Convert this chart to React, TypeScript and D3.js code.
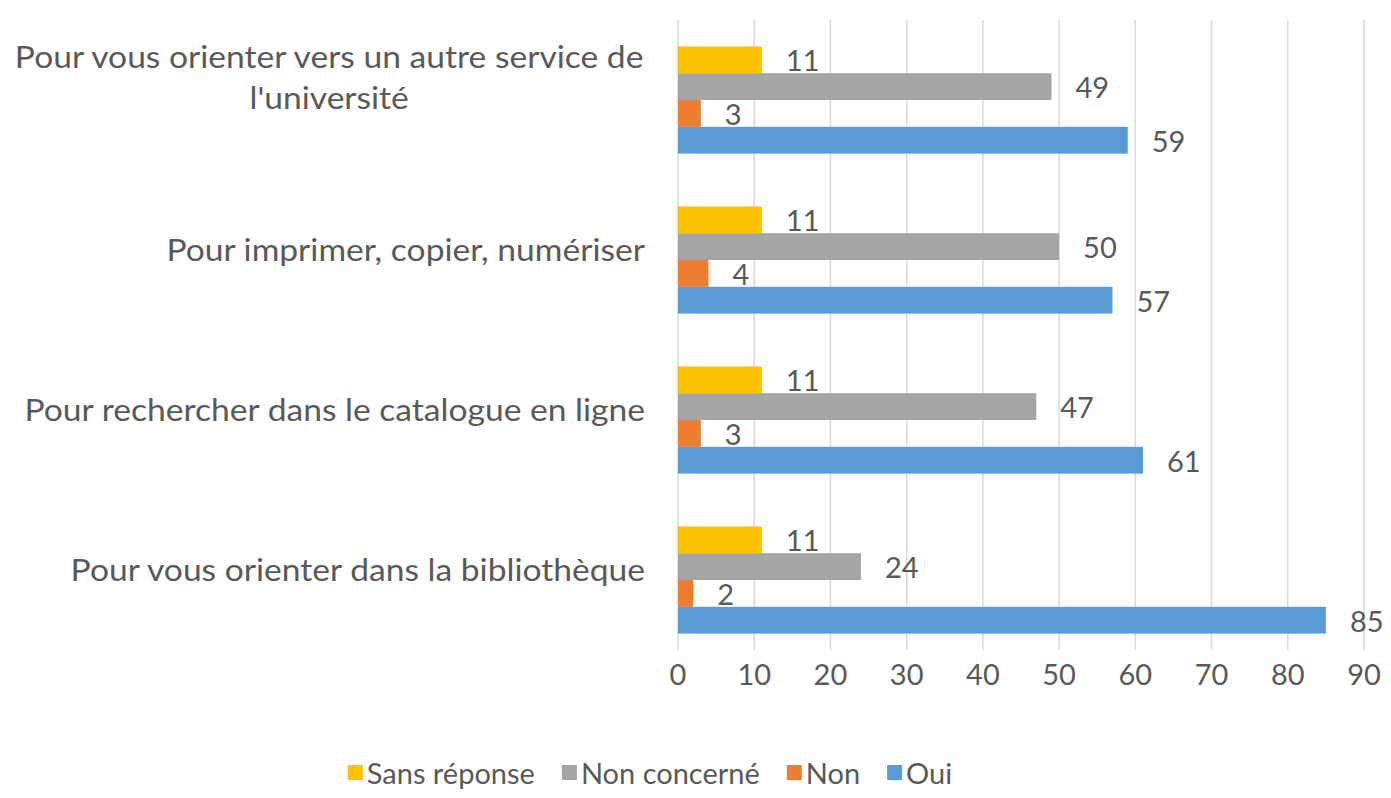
import React from 'react'
import * as d3 from 'd3'

const categories = [
  "Pour vous orienter vers un autre service de l'université",
  'Pour imprimer, copier, numériser',
  'Pour rechercher dans le catalogue en ligne',
  'Pour vous orienter dans la bibliothèque'
]
// how Excel wrapped the labels
const categoryLines = [
  ['Pour vous orienter vers un autre service de', "l'université"],
  ['Pour imprimer, copier, numériser'],
  ['Pour rechercher dans le catalogue en ligne'],
  ['Pour vous orienter dans la bibliothèque']
]

const seriesNames = ['Sans réponse', 'Non concerné', 'Non', 'Oui']
const seriesColors = ['#FFC000', '#A5A5A5', '#ED7D31', '#5B9BD5']

const sansReponse = [11, 11, 11, 11]
const nonConcerne = [49, 50, 47, 24]
const non = [3, 4, 3, 2]
const oui = [59, 57, 61, 85]
const seriesValues = [sansReponse, nonConcerne, non, oui]

const xTicks = [0, 10, 20, 30, 40, 50, 60, 70, 80, 90]

const W = 1391
const H = 798
const FONT_FAMILY = 'Lato, sans-serif'
const FS = 29
const CAT_FS = 30
const CAT_SX = 1.12 // the source text is a bit stretched sideways
const TEXT = '#595959'

let ctx: CanvasRenderingContext2D | null = null
const measure = (s: string, size: number) => {
  if (!ctx) ctx = document.createElement('canvas').getContext('2d')
  if (!ctx) return s.length * size * 0.45
  ctx.font = `${size}px Lato`
  return ctx.measureText(s).width
}

const App: React.FC = () => {
  const x = d3.scaleLinear().domain([0, 90]).range([678, 1364])
  const y = d3.scaleBand<string>()
    .domain(categories)
    .range([20, 660])
    .paddingInner(0.33)
    .paddingOuter(0.165)
  const inner = d3.scaleBand<string>()
    .domain(seriesNames)
    .range([0, y.bandwidth()])

  const labelRight = 645

  // legend layout
  const sw = 15
  const textGap = 4
  const itemGap = 27
  const widths = seriesNames.map(s => sw + textGap + measure(s, FS))
  const total = d3.sum(widths) + itemGap * (seriesNames.length - 1)
  let lx = 650 - total / 2
  const legendPos = widths.map(w => {
    const p = lx
    lx += w + itemGap
    return p
  })

  return (
    <svg width={W} height={H} style={{ position: 'absolute', left: 0, top: 0, background: '#fff' }}>
      {/* gridlines */}
      {xTicks.map(t => (
        <line key={t} x1={x(t)} x2={x(t)} y1={20} y2={650} stroke="#d9d9d9" strokeWidth={1.5} />
      ))}

      {/* bars */}
      {categories.map((c, ci) => (
        <g key={c} transform={`translate(0,${y(c)})`}>
          {seriesNames.map((s, si) => {
            const v = seriesValues[si][ci]
            const by = inner(s) as number
            return (
              <g key={s}>
                <rect x={x(0)} y={by} width={x(v) - x(0)} height={inner.bandwidth()} fill={seriesColors[si]} />
                <text
                  x={x(v) + 24}
                  y={by + inner.bandwidth() / 2}
                  dominantBaseline="central"
                  fontFamily={FONT_FAMILY}
                  fontSize={FS}
                  fill={TEXT}
                >{v}</text>
              </g>
            )
          })}
        </g>
      ))}

      {/* category labels */}
      {categories.map((c, ci) => {
        const lines = categoryLines[ci]
        const multi = lines.length > 1
        const cy = (y(c) as number) + y.bandwidth() / 2 - (multi ? 23 : 10)
        const lh = 41
        const maxW = (d3.max(lines, l => measure(l, CAT_FS)) as number) * CAT_SX
        return (
          <g key={c}>
            {lines.map((l, li) => (
              <text
                key={li}
                transform={`translate(${multi ? labelRight - maxW / 2 : labelRight},${cy + (li - (lines.length - 1) / 2) * lh}) scale(${CAT_SX},1)`}
                textAnchor={multi ? 'middle' : 'end'}
                dominantBaseline="central"
                fontFamily={FONT_FAMILY}
                fontSize={CAT_FS}
                fill={TEXT}
              >{l}</text>
            ))}
          </g>
        )
      })}

      {/* x tick labels */}
      {xTicks.map(t => (
        <text key={t} x={x(t)} y={673} textAnchor="middle" dominantBaseline="central"
          fontFamily={FONT_FAMILY} fontSize={FS} fill={TEXT}>{t}</text>
      ))}

      {/* legend */}
      {seriesNames.map((s, si) => (
        <g key={s} transform={`translate(${legendPos[si]},772)`}>
          <rect x={0} y={-7} width={sw} height={sw} fill={seriesColors[si]} />
          <text x={sw + textGap} y={0} dominantBaseline="central" fontFamily={FONT_FAMILY} fontSize={FS} fill={TEXT}>{s}</text>
        </g>
      ))}
    </svg>
  )
}

export default App
